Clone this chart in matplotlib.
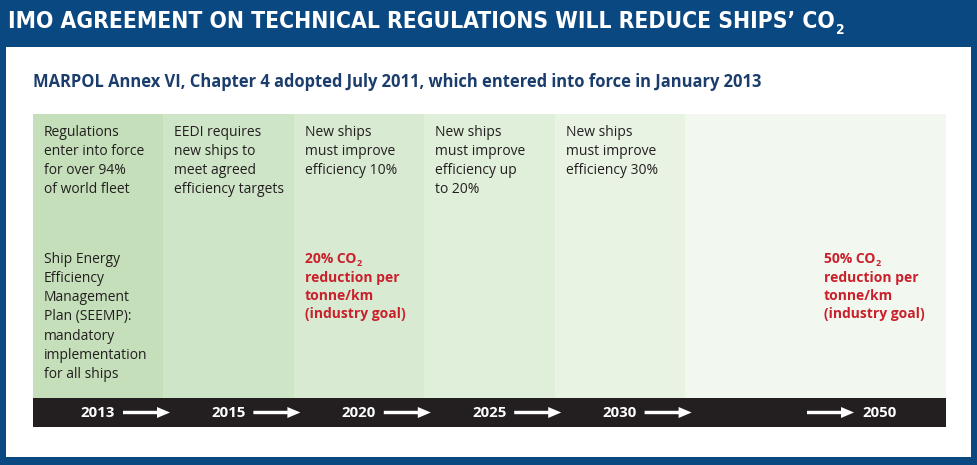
import matplotlib
matplotlib.use("Agg")
import matplotlib.pyplot as plt
from matplotlib.patches import Rectangle, FancyArrow
from matplotlib import font_manager
from matplotlib.font_manager import FontProperties

# ---------------- data ----------------
title = "IMO AGREEMENT ON TECHNICAL REGULATIONS WILL REDUCE SHIPS\u2019 CO"
subtitle = "MARPOL Annex VI, Chapter 4 adopted July 2011, which entered into force in January 2013"
years = ["2013", "2015", "2020", "2025", "2030", "2050"]
top_notes = [
    "Regulations\nenter into force\nfor over 94%\nof world fleet",
    "EEDI requires\nnew ships to\nmeet agreed\nefficiency targets",
    "New ships\nmust improve\nefficiency 10%",
    "New ships\nmust improve\nefficiency up\nto 20%",
    "New ships\nmust improve\nefficiency 30%",
    "",
]
lower_notes = [
    "Ship Energy\nEfficiency\nManagement\nPlan (SEEMP):\nmandatory\nimplementation\nfor all ships",
    "", "", "", "", "",
]
goal_pct = ["", "", "20%", "", "", "50%"]
goal_rest = "reduction per\ntonne/km\n(industry goal)"
col_colors = ["#c5dfba", "#cfe5c8", "#d8ead2", "#e0efda", "#e9f3e4", "#f2f8ef"]

# ---------------- style ----------------
BLUE = "#0a4882"
NAVY = "#1b3d6c"
RED = "#c9202c"
BAR = "#231f20"

avail = {f.name for f in font_manager.fontManager.ttflist}
body_font = "Open Sans" if "Open Sans" in avail else "DejaVu Sans"

# look for a condensed face for the title
cond = [f for f in font_manager.fontManager.ttflist
        if ("Narrow" in f.name or "Condensed" in f.name
            or str(f.stretch) in ("condensed", "semi-condensed", "extra-condensed"))]
cond_bold = [f for f in cond if str(f.weight) in ("bold", "700", "600", "semibold")]
if cond_bold:
    title_fp = FontProperties(fname=cond_bold[0].fname)
elif cond:
    title_fp = FontProperties(fname=cond[0].fname, weight="bold")
else:
    title_fp = FontProperties(family=body_font, weight="bold")

W, H = 977, 465
fig = plt.figure(figsize=(W / 100, H / 100), dpi=100)
fig.patch.set_facecolor(BLUE)
ax = fig.add_axes([0, 0, 1, 1])
ax.set_xlim(0, W)
ax.set_ylim(H, 0)
ax.axis("off")

# white panel
ax.add_patch(Rectangle((6, 47), 965, 410, facecolor="white", edgecolor="none"))

# title, sized to fit the reference width
title_fp.set_size(20)
t = ax.text(8, 21, title, color="white", fontproperties=title_fp, va="center", ha="left")
r = fig.canvas.get_renderer()
wpx = t.get_window_extent(r).width
size = 20 * 827 / wpx
title_fp.set_size(size)
t.set_fontproperties(title_fp)
sub_fp = title_fp.copy()
sub_fp.set_size(size * 0.6)
ax.annotate("2", xy=(1, 0.15), xycoords=t, xytext=(1, -1), textcoords="offset points",
            color="white", fontproperties=sub_fp, va="center", ha="left")

# subtitle
ax.text(33, 82, subtitle, color=NAVY, fontsize=11.9, family=body_font,
        fontweight="bold", va="center", ha="left")

# columns
left, top, bottom = 33, 114, 398
unit = 130.4
widths = [unit, unit, unit, unit, unit, 2 * unit]
x = left
xs = []
for w, c in zip(widths, col_colors):
    ax.add_patch(Rectangle((x, top), w, bottom - top, facecolor=c, edgecolor="none"))
    xs.append(x)
    x += w

LS = 1.39
for i, xi in enumerate(xs):
    tx = xi + 11
    if top_notes[i]:
        ax.text(tx, 124.5, top_notes[i], fontsize=10, family=body_font, color="#231f20",
                va="top", ha="left", linespacing=LS)
    if lower_notes[i]:
        ax.text(tx, 251.5, lower_notes[i], fontsize=10, family=body_font, color="#231f20",
                va="top", ha="left", linespacing=LS)
    if goal_pct[i]:
        gx = tx if i < 5 else 824
        g = ax.text(gx, 251.5, goal_pct[i] + " CO", fontsize=10, family=body_font,
                    color=RED, fontweight="bold", va="top", ha="left")
        ax.annotate("2", xy=(1, 0.12), xycoords=g, xytext=(0.5, 0),
                    textcoords="offset points", color=RED, fontsize=6.5,
                    family=body_font, fontweight="bold", va="center", ha="left")
        ax.text(gx, 270.8, goal_rest, fontsize=10, family=body_font, color=RED,
                fontweight="bold", va="top", ha="left", linespacing=LS)

# timeline bar
bar_y0, bar_y1 = 398, 427
ax.add_patch(Rectangle((left, bar_y0), sum(widths), bar_y1 - bar_y0,
                       facecolor=BAR, edgecolor="none"))
yc = (bar_y0 + bar_y1) / 2


def arrow(x0, x1):
    ax.add_patch(FancyArrow(x0, yc, x1 - x0, 0, width=3.4, head_width=11,
                            head_length=13, length_includes_head=True,
                            facecolor="white", edgecolor="none"))


for i, xi in enumerate(xs[:5]):
    ax.text(xi + 65, yc, years[i], color="white", fontsize=10.8, family=body_font,
            fontweight="bold", va="center", ha="center")
    arrow(xi + 90, xi + 137)
arrow(xs[5] + 122, xs[5] + 169)
ax.text(xs[5] + 195, yc, years[5], color="white", fontsize=10.8, family=body_font,
        fontweight="bold", va="center", ha="center")

fig.savefig("out.png", dpi=100, facecolor=BLUE)
